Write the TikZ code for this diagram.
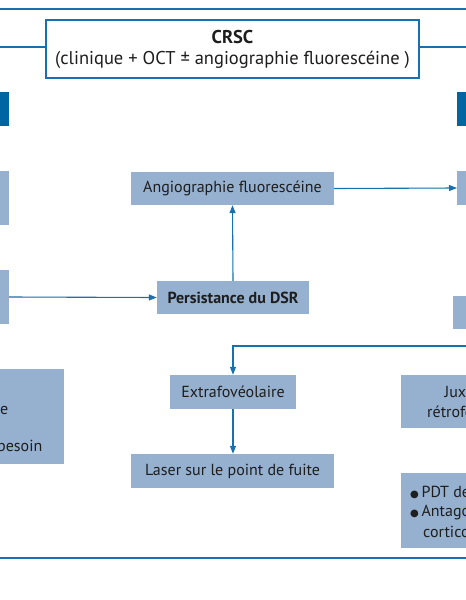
\documentclass[tikz,border=0pt]{standalone}
\usepackage{fontspec}
\setmainfont{PT Sans}
\newfontfamily\symfont{DejaVu Sans}
\usetikzlibrary{arrows.meta}
\definecolor{lineblue}{RGB}{24,112,172}
\definecolor{darkbox}{RGB}{0,102,161}
\definecolor{lightbox}{RGB}{150,176,207}
\definecolor{txt}{RGB}{30,30,30}
\newcommand{\bul}{{\symfont\fontsize{10}{12}\selectfont ●}\,}
\tikzset{
  bodyfont/.style={font=\fontsize{16}{20}\selectfont},
  lbox/.style={fill=lightbox, draw=none, inner sep=0pt, text=txt, bodyfont, align=center},
  ltext/.style={inner sep=0pt, text=txt, bodyfont},
  dbox/.style={fill=darkbox, draw=none, inner sep=0pt},
  conn/.style={draw=lineblue, line width=1.1pt},
  arr/.style={conn, -{Triangle[length=8pt,width=6pt]}},
  rule/.style={draw=lineblue, line width=1.6pt},
}
\begin{document}
\begin{tikzpicture}[x=1pt,y=-1pt]
\useasboundingbox[fill=white] (0,0) rectangle (466,600);
% top rule
\coordinate (tl) at (0,9);
\coordinate (tr) at (466,9);
\draw[rule] (tl) -- (tr);
% CRSC box
\node[draw=lineblue, line width=1.1pt, fill=white, minimum width=373pt, minimum height=58pt, inner sep=0pt, align=center, text=txt, font=\fontsize{18.5}{21}\selectfont] (crsc) at (232.5,49)
  {\textbf{CRSC}\\(clinique + OCT ± angiographie fluorescéine )};
\coordinate (cl) at (0,47);
\coordinate (cr) at (466,47);
\draw[conn] (cl) -- (crsc.west |- cl);
\draw[conn] (crsc.east |- cr) -- (cr);
% dark boxes at edges
\node[dbox, minimum width=80pt, minimum height=34pt] (dl) at (-31,108.5) {};
\node[dbox, minimum width=80pt, minimum height=34pt] (dr) at (497,109) {};
% left light boxes
\node[lbox, minimum width=80pt, minimum height=54pt] (l1) at (-31,198) {};
\node[lbox, minimum width=80pt, minimum height=54pt] (l2) at (-31,297) {};
% left big box
\node[lbox, minimum width=144pt, minimum height=95pt] (l3) at (-8,416.5) {};
\node[ltext, anchor=east] (l3a) at (8.5,409) {Surveillance};
\node[ltext, anchor=east] (l3b) at (42.5,446) {si besoin};
% centre column
\node[lbox, minimum width=203pt, minimum height=33pt] (angio) at (232.5,188.5) {Angiographie fluorescéine};
\node[lbox, minimum width=152pt, minimum height=33pt, font=\fontsize{16}{20}\selectfont\bfseries] (pers) at (233,297.5) {Persistance du DSR};
\node[lbox, minimum width=126pt, minimum height=34pt] (extra) at (233,392) {Extrafovéolaire};
\node[lbox, minimum width=203pt, minimum height=34pt] (laser) at (232.5,471) {Laser sur le point de fuite};
% right boxes
\node[lbox, minimum width=100pt, minimum height=34pt, anchor=west] (r1) at (457,188) {};
\node[lbox, minimum width=100pt, minimum height=33pt, anchor=west] (r2) at (453,312.5) {\hspace*{10pt}Chronique\hfill};
\node[lbox, minimum width=100pt, minimum height=53pt, anchor=west] (r3) at (401,401.5) {};
\node[ltext, anchor=west] (r3a) at (444.5,392) {Juxta ou};
\node[ltext, anchor=west] (r3b) at (427,412) {rétrofovéolaire};
\node[lbox, minimum width=100pt, minimum height=75pt, anchor=west] (r4) at (401,510.5) {};
\node[ltext, anchor=west] (r4a) at (410,492) {\bul PDT demi-fluence};
\node[ltext, anchor=west] (r4b) at (410,513) {\bul Antagonistes des};
\node[ltext, anchor=west] (r4c) at (423,532) {corticoïdes};
% connectors
\draw[arr] (l2.east) -- (pers.west);
\draw[arr] (pers.north) -- (angio.south);
\draw[arr] (angio.east) -- (r1.west);
\coordinate (split) at (480,346);
\draw[arr] (split) -- (extra.north |- split) -- (extra.north);
\draw[arr] (extra.south) -- (laser.north -| extra.south);
% bottom rule
\coordinate (bl) at (0,558);
\coordinate (br) at (466,558);
\draw[rule] (bl) -- (br);
\end{tikzpicture}
\end{document}
